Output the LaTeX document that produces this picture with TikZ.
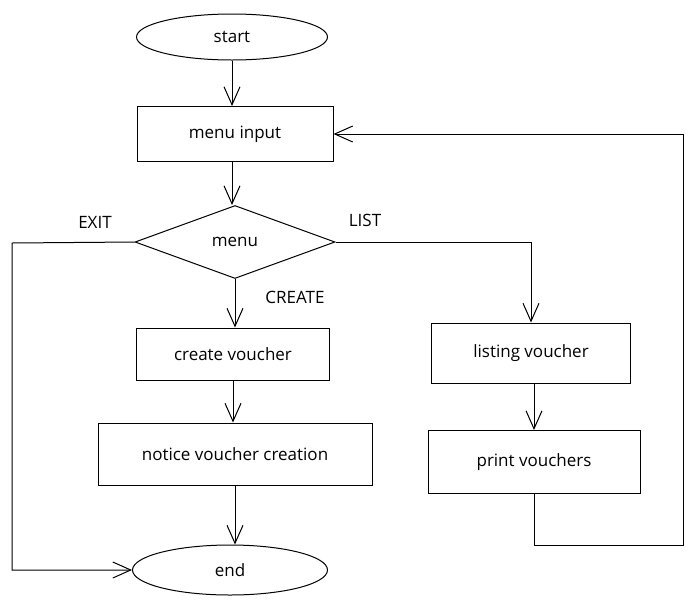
\documentclass[tikz,border=0pt]{standalone}
\usepackage{fontspec}
\setmainfont{Open Sans}
\usetikzlibrary{shapes.geometric,arrows.meta}
\begin{document}
\begin{tikzpicture}[x=1pt,y=-1pt,line width=1pt,>={Straight Barb[length=18pt,width=16pt]},
	box/.style={draw,rectangle,inner sep=0pt,font=\fontsize{17}{20}\selectfont},
	term/.style={draw,ellipse,inner sep=0pt,font=\fontsize{17}{20}\selectfont},
	choice/.style={draw,diamond,inner sep=0pt,font=\fontsize{17}{20}\selectfont},
	lbl/.style={font=\fontsize{17}{20}\selectfont}]
	\useasboundingbox (0,0) rectangle (696,606);
	% main column
	\node[term,minimum width=191pt,minimum height=46pt] (start) at (232,37) {start};
	\node[box,minimum width=196pt,minimum height=55pt] (input) at (235,134) {menu input};
	\node[choice,minimum width=200pt,minimum height=73pt] (menu) at (235,242) {menu};
	\node[box,minimum width=193pt,minimum height=52pt] (create) at (233,354) {create voucher};
	\node[box,minimum width=274pt,minimum height=62pt] (notice) at (235,454) {notice voucher creation};
	\node[term,minimum width=195pt,minimum height=50pt] (end) at (230,570) {end};
	% list column
	\node[box,minimum width=199pt,minimum height=60pt] (listing) at (531,353) {listing voucher};
	\node[box,minimum width=212pt,minimum height=63pt] (print) at (534,462) {print vouchers};
	\coordinate (exitc) at (12,243);
	\coordinate (loopc) at (683,545);
	
	\draw[->] (start.south)--(start.south|-input.north);
	\draw[->] (input.south-|start.south)--(menu.north-|start.south);
	\draw[->] (menu.south)--(menu.south|-create.north);
	\draw[->] (create.south)--(create.south|-notice.north);
	\draw[->] (notice.south)--(notice.south|-end.north);
	\draw[->] (print.north|-listing.south)--(print.north);
	\draw[->] (menu.west)--(exitc)|-(end.west);
	\draw[->] (menu.east)-|(listing.north);
	\draw[->] (print.south)|-(loopc)|-(input.east);
	
	\node[lbl] (exit) at (95,222) {EXIT};
	\node[lbl] (list) at (365,220) {LIST};
	\node[lbl] (crt) at (295,297) {CREATE};
\end{tikzpicture}
\end{document}
